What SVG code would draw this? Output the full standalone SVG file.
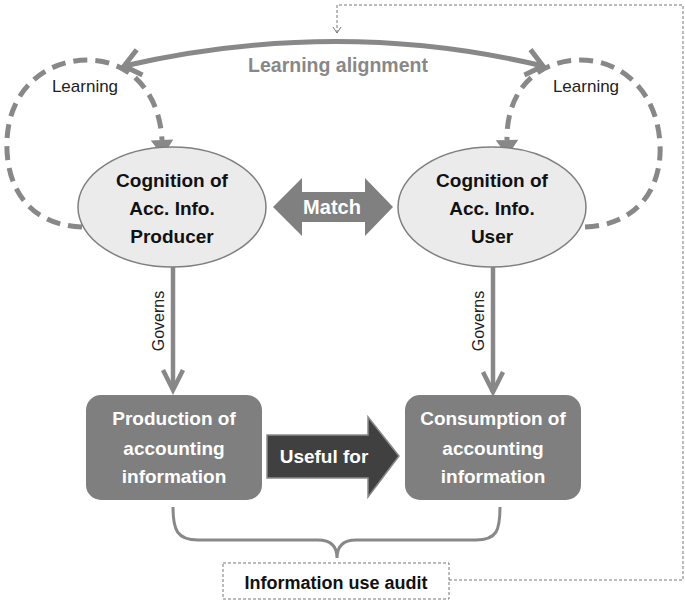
<svg xmlns="http://www.w3.org/2000/svg" width="685" height="606" viewBox="0 0 685 606">
<style>
.bold{font-family:"Liberation Sans",Arial,sans-serif;font-weight:bold;}
.reg{font-family:"Liberation Sans",Arial,sans-serif;}
.ell{fill:#ebebeb;stroke:#7f7f7f;stroke-width:1.5;}
.box{fill:#7f7f7f;}
.loop{fill:none;stroke:#888;stroke-width:5;stroke-dasharray:14 8;}
.gov{fill:none;stroke:#888;stroke-width:4.5;}
.wt{fill:#fff;}
</style>
<defs>
<marker id="openv" markerUnits="userSpaceOnUse" orient="auto-start-reverse" refX="0" refY="0" markerWidth="40" markerHeight="40" viewBox="-25 -20 30 40" overflow="visible">
<path d="M-16,-13 L0,0 L-16,13" fill="none" stroke="#888" stroke-width="5" stroke-linejoin="miter"/>
</marker>
<marker id="tri" markerUnits="userSpaceOnUse" orient="auto" refX="0" refY="0" markerWidth="30" markerHeight="30" viewBox="-2 -12 16 24" overflow="visible">
<path d="M0,-9 L13,0 L0,9 Z" fill="#888"/>
</marker>
<marker id="small" markerUnits="userSpaceOnUse" orient="auto" refX="0" refY="0" markerWidth="12" markerHeight="12" viewBox="-8 -6 10 12" overflow="visible">
<path d="M-6,-4 L0,0 L-6,4" fill="none" stroke="#777" stroke-width="1"/>
</marker>
</defs>
<rect width="685" height="606" fill="#fff"/>

<g id="connectors">
<path id="feedback" d="M449,580 H683 V5 H337 V33" fill="none" stroke="#777" stroke-width="1" stroke-dasharray="3 2" marker-end="url(#small)"/>
<path id="alignment" d="M124,66 Q338,17 543,66" fill="none" stroke="#888" stroke-width="5" marker-start="url(#openv)" marker-end="url(#openv)"/>
<path id="loop-left" class="loop" d="M82,227 C27,225 5,185 7,140 C9,90 45,60 88,60 C135,61 160,98 162,140" marker-end="url(#tri)"/>
<path id="loop-right" class="loop" d="M585,227 C640,225 662,185 660,145 C658,95 625,60 580,60 C530,61 506,98 507,140" marker-end="url(#tri)"/>
<g id="governs-left">
<line class="gov" x1="173" y1="267" x2="173" y2="390"/>
<polyline class="gov" points="163,370 173,390 183,370" stroke-width="5"/>
</g>
<g id="governs-right">
<line class="gov" x1="493" y1="267" x2="493" y2="392"/>
<polyline class="gov" points="483,372 493,392 503,372" stroke-width="5"/>
</g>
<path id="brace" d="M173,507 C173,530 177,540 198,540 L318,540 C331,540 337,546 337,558 C337,546 343,540 356,540 L476,540 C497,540 500,530 500,507" fill="none" stroke="#888" stroke-width="3"/>
<text class="bold" x="338" y="72" font-size="19.5" fill="#888" text-anchor="middle">Learning alignment</text>
<text class="reg" x="85" y="92" font-size="17" fill="#222" text-anchor="middle">Learning</text>
<text class="reg" x="586" y="92" font-size="17" fill="#222" text-anchor="middle">Learning</text>
<text class="reg" font-size="16" fill="#222" text-anchor="middle" transform="translate(164,321) rotate(-90)">Governs</text>
<text class="reg" font-size="16" fill="#222" text-anchor="middle" transform="translate(484,321) rotate(-90)">Governs</text>
</g>

<g id="producer">
<ellipse class="ell" cx="172" cy="207" rx="94" ry="60"/>
<text class="bold" font-size="19" fill="#111" text-anchor="middle"><tspan x="172" y="187">Cognition of</tspan><tspan x="172" y="215">Acc. Info.</tspan><tspan x="172" y="243">Producer</tspan></text>
</g>
<g id="user">
<ellipse class="ell" cx="492" cy="207" rx="94" ry="60"/>
<text class="bold" font-size="19" fill="#111" text-anchor="middle"><tspan x="492" y="187">Cognition of</tspan><tspan x="492" y="215">Acc. Info.</tspan><tspan x="492" y="243">User</tspan></text>
</g>
<g id="match">
<polygon points="273,207 302,178 302,192 365,192 365,178 393,207 365,236 365,222 302,222 302,236" fill="#808080"/>
<text class="bold wt" x="332" y="214" font-size="20" text-anchor="middle">Match</text>
</g>
<g id="production">
<rect class="box" x="86" y="395" width="176" height="105" rx="15"/>
<text class="bold wt" font-size="19" text-anchor="middle"><tspan x="174" y="425">Production of</tspan><tspan x="174" y="455">accounting</tspan><tspan x="174" y="483">information</tspan></text>
</g>
<g id="consumption">
<rect class="box" x="405" y="395" width="176" height="105" rx="15"/>
<text class="bold wt" font-size="19" text-anchor="middle"><tspan x="493" y="425">Consumption of</tspan><tspan x="493" y="455">accounting</tspan><tspan x="493" y="483">information</tspan></text>
</g>
<g id="useful">
<polygon points="267,435 368,435 368,417 399,456 368,497 368,478 267,478" fill="#404040" stroke="#8a8a8a" stroke-width="1.5"/>
<text class="bold wt" x="324" y="463" font-size="19" text-anchor="middle">Useful for</text>
</g>
<g id="audit">
<rect x="223" y="563" width="226" height="36" fill="#fff" stroke="#777" stroke-width="1" stroke-dasharray="3 2"/>
<text class="bold" x="336" y="589" font-size="18" fill="#111" text-anchor="middle">Information use audit</text>
</g>
</svg>
